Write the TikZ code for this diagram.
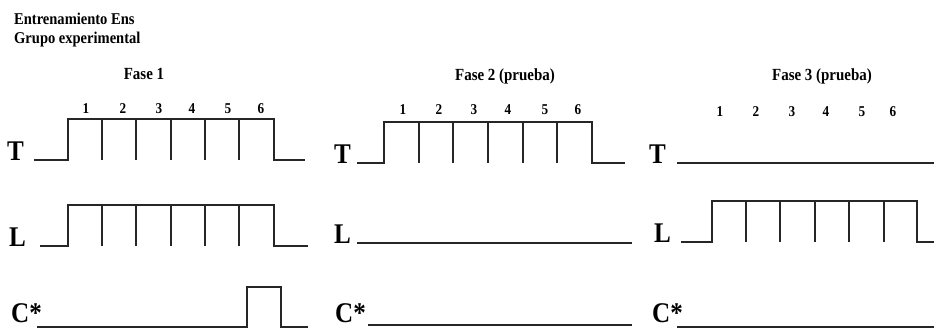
\documentclass[tikz,border=0pt]{standalone}
\usepackage{fontspec}
\setmainfont{Liberation Serif}[FakeStretch=0.88]
\begin{document}
\begin{tikzpicture}[x=1pt,y=-1pt,
  wave/.style={line width=2.2pt,line cap=butt,line join=miter,black!85},
  title/.style={inner sep=0pt,anchor=base west,font=\fontsize{16.5}{18}\selectfont\bfseries},
  phase/.style={inner sep=0pt,anchor=base,font=\fontsize{17}{18}\selectfont\bfseries},
  digit/.style={inner sep=0pt,anchor=base,font=\fontsize{15}{17}\selectfont\bfseries},
  sig/.style={inner sep=0pt,anchor=base west,font=\fontsize{28.5}{30}\selectfont\bfseries}]
\useasboundingbox (0,0) rectangle (934,329);
% titles
\node[title] (t1) at (14,25) {Entrenamiento Ens};
\node[title] (t2) at (14,44) {Grupo experimental};
\node[phase] (f1) at (144,80) {Fase 1};
\node[phase] (f2) at (505,81) {Fase 2 (prueba)};
\node[phase] (f3) at (822,81) {Fase 3 (prueba)};
% digits
\foreach \x [count=\i] in {86,123,159,192,228,261} \node[digit] (da\i) at (\x,113) {\i};
\foreach \x [count=\i] in {403,439,474,508,545,578} \node[digit] (db\i) at (\x,114) {\i};
\foreach \x [count=\i] in {720,756,792,826,862,893} \node[digit] (dc\i) at (\x,116) {\i};
% signal labels
\node[sig] (T1) at (7,160) {T};
\node[sig] (L1) at (9,246) {L};
\node[sig] (C1) at (11,322) {C*};
\node[sig] (T2) at (334,163) {T};
\node[sig] (L2) at (334,243) {L};
\node[sig] (C2) at (335,322) {C*};
\node[sig] (T3) at (649,163) {T};
\node[sig] (L3) at (654,242) {L};
\node[sig] (C3) at (652,322) {C*};
% panel 1
\draw[wave] (34,160) -- (68,160) -- (68,119) -- (274,119) -- (274,160) -- (305,160);
\foreach \x in {102,136,171,205,239} \draw[wave] (\x,119) -- (\x,160);
\draw[wave] (40,246) -- (68,246) -- (68,205) -- (274,205) -- (274,246) -- (308,246);
\foreach \x in {102,136,171,205,239} \draw[wave] (\x,205) -- (\x,246);
\draw[wave] (37,327) -- (247,327) -- (247,287) -- (281,287) -- (281,327) -- (308,327);
% panel 2
\draw[wave] (357,163) -- (384,163) -- (384,122) -- (592,122) -- (592,163) -- (625,163);
\foreach \x in {419,453,488,523,557} \draw[wave] (\x,122) -- (\x,163);
\draw[wave] (357,243) -- (632,243);
\draw[wave] (368,325) -- (632,325);
% panel 3
\draw[wave] (677,163) -- (934,163);
\draw[wave] (681,242) -- (712,242) -- (712,201) -- (917,201) -- (917,242) -- (934,242);
\foreach \x in {746,780,815,849,884} \draw[wave] (\x,201) -- (\x,242);
\draw[wave] (677,327) -- (934,327);
\end{tikzpicture}
\end{document}
